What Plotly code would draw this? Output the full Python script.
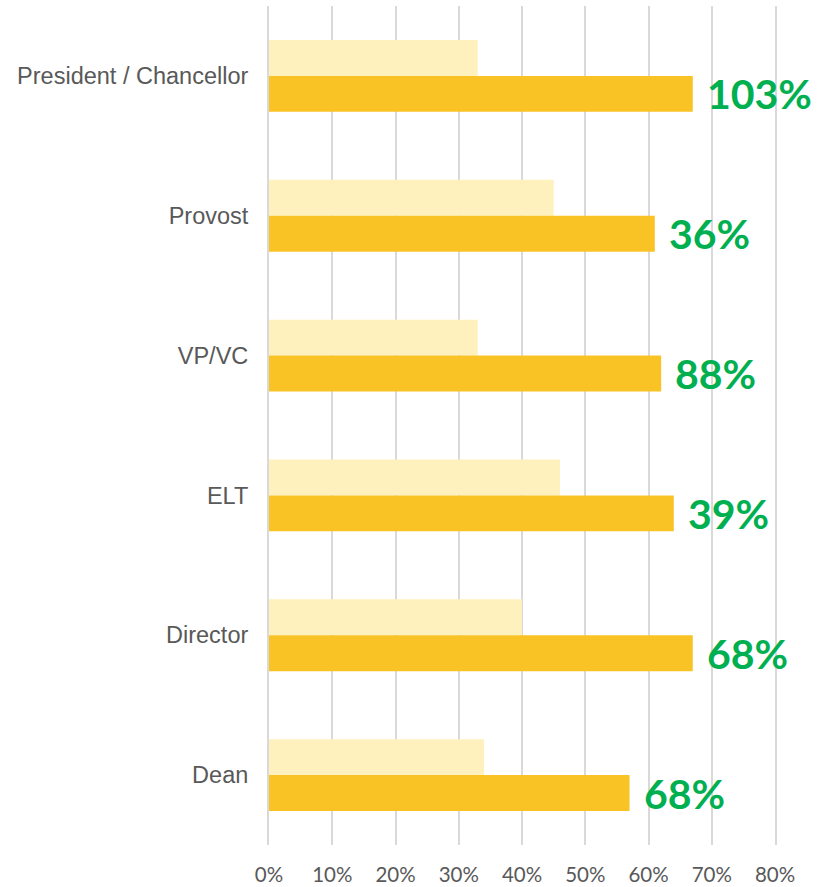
import plotly.graph_objects as go

categories = ["President / Chancellor", "Provost", "VP/VC", "ELT", "Director", "Dean"]
before = [0.33, 0.45, 0.33, 0.46, 0.40, 0.34]
after = [0.67, 0.61, 0.62, 0.64, 0.67, 0.57]
growth_labels = ["103%", "36%", "88%", "39%", "68%", "68%"]
tick_vals = [0, 0.1, 0.2, 0.3, 0.4, 0.5, 0.6, 0.7, 0.8]
tick_text = ["0%", "10%", "20%", "30%", "40%", "50%", "60%", "70%", "80%"]

fig = go.Figure()
fig.add_trace(go.Bar(y=categories, x=before, orientation="h", marker_color="#FFF1BD",
                     marker_line_width=0, name="Before"))
fig.add_trace(go.Bar(y=categories, x=after, orientation="h", marker_color="#F9C325",
                     marker_line_width=0, name="After"))

for cat, val, lab in zip(categories, after, growth_labels):
    fig.add_annotation(x=val, y=cat, text=lab, showarrow=False, xanchor="left", yanchor="middle",
                       xshift=12, yshift=-18,
                       font=dict(family="Lato", size=41, color="#00B050", weight="bold"))

fig.update_layout(
    width=818, height=887,
    margin=dict(l=269, r=43, t=6, b=42),
    plot_bgcolor="white", paper_bgcolor="white",
    barmode="group", bargap=0.486, bargroupgap=0,
    showlegend=False,
    xaxis=dict(range=[0, 0.8], tickvals=tick_vals, ticktext=tick_text, automargin=False,
               showgrid=True, gridcolor="#D9D9D9", gridwidth=2, zeroline=False,
               showline=False, ticks="", ticklabelstandoff=15,
               tickfont=dict(family="Lato", size=20.5, color="#595959")),
    yaxis=dict(autorange="reversed", showgrid=False, zeroline=False,
               showline=True, linecolor="#D9D9D9", linewidth=2, mirror=True,
               ticks="", ticklabelstandoff=14, automargin=False,
               tickfont=dict(family="Arial, Liberation Sans", size=23.5, color="#595959")),
)

fig.write_html("out.html")
